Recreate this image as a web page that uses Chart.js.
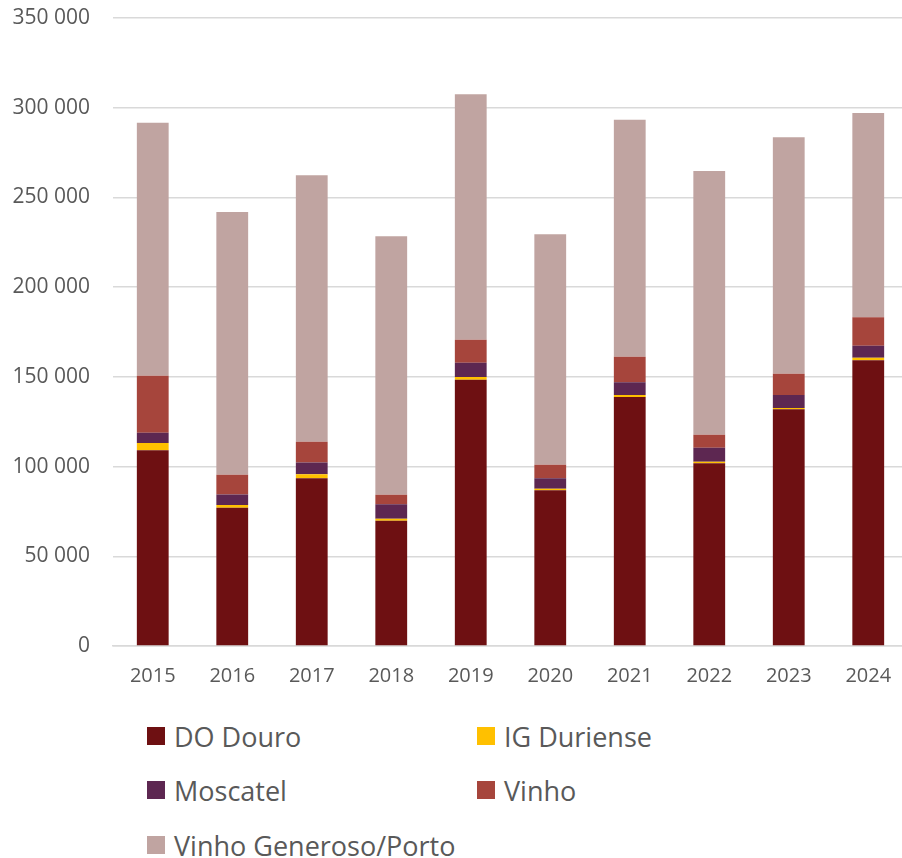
<!DOCTYPE html>
<html>
<head>
<meta charset="utf-8">
<script src="https://cdn.jsdelivr.net/npm/chart.js@4"></script>
<style>
  html, body { margin: 0; padding: 0; background: #fff; overflow: hidden; }
  #wrap { position: relative; width: 908px; height: 700px; }
  #legend { position: absolute; left: 0; top: 700px; width: 902px; font-family: "Open Sans", sans-serif; font-size: 27px; color: #595959; }
  .item { position: absolute; display: flex; align-items: center; white-space: nowrap; }
  .box { width: 18px; height: 18px; margin-right: 9px; }
</style>
</head>
<body>
<div id="wrap"><canvas id="c" width="908" height="700"></canvas></div>
<div id="legend"></div>
<script>
const years = ["2015","2016","2017","2018","2019","2020","2021","2022","2023","2024"];
const doDouro    = [109100, 77100, 93500, 69800, 148400, 86800, 138800, 101800, 131900, 159200];
const igDuriense = [4000, 1500, 2200, 1100, 1500, 900, 1100, 900, 700, 1500];
const moscatel   = [5800, 5900, 6500, 8100, 8000, 5800, 7100, 7800, 7300, 6700];
const vinho      = [31700, 11000, 11700, 5300, 12800, 7500, 14200, 7300, 11900, 15800];
const porto      = [141000, 146400, 148500, 144100, 136800, 128500, 132100, 146900, 131800, 113800];
const seriesNames = ["DO Douro", "IG Duriense", "Moscatel", "Vinho", "Vinho Generoso/Porto"];
const seriesColors = ["#6E1012", "#FFC000", "#5D2751", "#A6453C", "#C0A4A1"];
const seriesData = [doDouro, igDuriense, moscatel, vinho, porto];

const fmt = v => String(v).replace(/\B(?=(\d{3})+(?!\d))/g, " ");

new Chart(document.getElementById("c"), {
  type: "bar",
  data: {
    labels: years,
    datasets: seriesNames.map((n, i) => ({
      label: n,
      data: seriesData[i],
      backgroundColor: seriesColors[i],
      borderWidth: 0,
      barPercentage: 0.4,
      categoryPercentage: 1
    }))
  },
  options: {
    responsive: false,
    animation: false,
    devicePixelRatio: 1,
    layout: { padding: { top: 18, right: 0, left: 0, bottom: 0 } },
    plugins: { legend: { display: false }, tooltip: { enabled: false } },
    scales: {
      x: {
        stacked: true,
        grid: { display: false, drawTicks: false },
        border: { color: "#D9D9D9", width: 1.5 },
        ticks: { color: "#595959", font: { family: "Open Sans", size: 20 }, padding: 18, maxRotation: 0 },
        afterFit: s => { s.height = 54; s.paddingLeft = 0; s.paddingRight = 0; }
      },
      y: {
        stacked: true,
        min: 0, max: 350000,
        grid: { color: "#D9D9D9", lineWidth: 1.5, drawTicks: false },
        border: { display: false },
        ticks: { stepSize: 50000, color: "#595959", font: { family: "Open Sans", size: 21 }, padding: 23, callback: v => fmt(v) },
        afterFit: s => { s.width = 113; s.paddingTop = 0; s.paddingBottom = 0; }
      }
    }
  }
});

const legend = document.getElementById("legend");
const pos = [[147, 36], [477, 36], [147, 90], [477, 90], [147, 145]];
seriesNames.forEach((n, i) => {
  const d = document.createElement("div");
  d.className = "item";
  d.style.left = pos[i][0] + "px";
  d.style.top = (pos[i][1] - 18) + "px";
  d.style.height = "36px";
  d.innerHTML = '<span class="box" style="background:' + seriesColors[i] + '"></span><span>' + n + '</span>';
  legend.appendChild(d);
});
</script>
</body>
</html>
